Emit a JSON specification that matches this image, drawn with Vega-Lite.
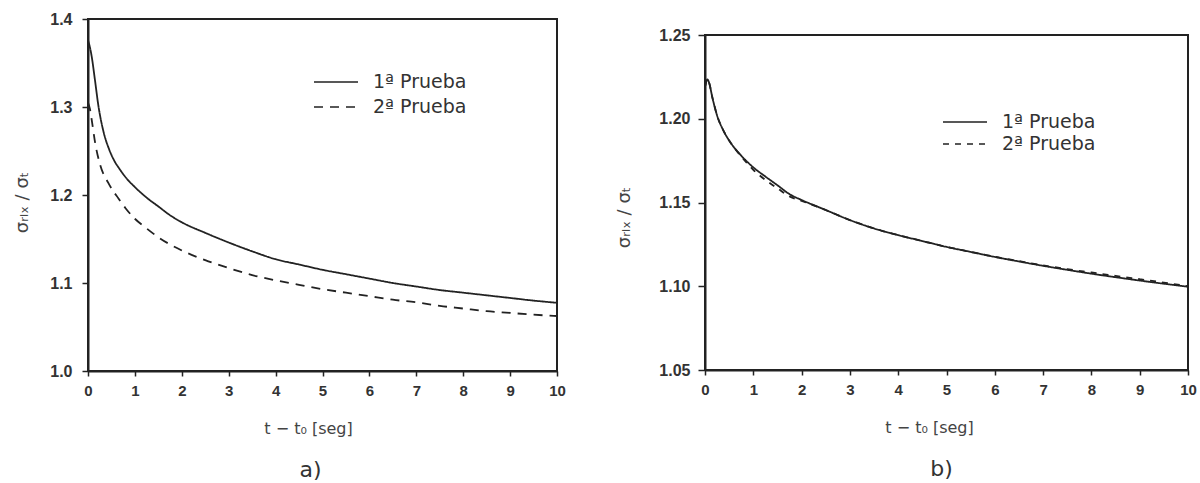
{
  "$schema": "https://vega.github.io/schema/vega-lite/v6.json",
  "background": "white",
  "padding": {"left": 12, "top": 10, "right": 0, "bottom": 0},
  "spacing": 47,
  "resolve": {"scale": {"strokeDash": "independent"}, "legend": {"strokeDash": "independent"}},
  "config": {
    "view": {"stroke": "#222", "strokeWidth": 2},
    "axis": {
      "grid": false,
      "domainColor": "#222",
      "domainWidth": 2,
      "tickColor": "#222",
      "tickWidth": 1.5,
      "labelFont": "Liberation Sans",
      "labelFontWeight": "bold",
      "labelColor": "#333",
      "titleFont": "DejaVu Sans",
      "titleFontWeight": "normal",
      "titleColor": "#444",
      "labelFlush": false
    },
    "legend": {
      "symbolType": "M-2,0H2",
      "symbolStrokeWidth": 1.6,
      "symbolStrokeColor": "#222",
      "symbolSize": 484,
      "labelFont": "DejaVu Sans",
      "labelFontSize": 19,
      "labelColor": "#333",
      "labelOffset": 25,
      "padding": 0
    },
    "title": {"font": "DejaVu Sans", "fontWeight": "normal", "fontSize": 22, "color": "#333"}
  },
  "datasets": {
    "a": [
      {"t": 0.0, "v": 1.376, "serie": "1ª Prueba"},
      {"t": 0.04, "v": 1.368, "serie": "1ª Prueba"},
      {"t": 0.08, "v": 1.357, "serie": "1ª Prueba"},
      {"t": 0.15, "v": 1.330, "serie": "1ª Prueba"},
      {"t": 0.22, "v": 1.302, "serie": "1ª Prueba"},
      {"t": 0.33, "v": 1.272, "serie": "1ª Prueba"},
      {"t": 0.45, "v": 1.252, "serie": "1ª Prueba"},
      {"t": 0.54, "v": 1.241, "serie": "1ª Prueba"},
      {"t": 0.68, "v": 1.229, "serie": "1ª Prueba"},
      {"t": 0.82, "v": 1.219, "serie": "1ª Prueba"},
      {"t": 1.0, "v": 1.209, "serie": "1ª Prueba"},
      {"t": 1.25, "v": 1.197, "serie": "1ª Prueba"},
      {"t": 1.5, "v": 1.187, "serie": "1ª Prueba"},
      {"t": 1.75, "v": 1.177, "serie": "1ª Prueba"},
      {"t": 2.0, "v": 1.169, "serie": "1ª Prueba"},
      {"t": 2.5, "v": 1.157, "serie": "1ª Prueba"},
      {"t": 3.0, "v": 1.146, "serie": "1ª Prueba"},
      {"t": 3.5, "v": 1.136, "serie": "1ª Prueba"},
      {"t": 4.0, "v": 1.127, "serie": "1ª Prueba"},
      {"t": 4.5, "v": 1.121, "serie": "1ª Prueba"},
      {"t": 5.0, "v": 1.115, "serie": "1ª Prueba"},
      {"t": 5.5, "v": 1.110, "serie": "1ª Prueba"},
      {"t": 6.0, "v": 1.105, "serie": "1ª Prueba"},
      {"t": 6.5, "v": 1.100, "serie": "1ª Prueba"},
      {"t": 7.0, "v": 1.096, "serie": "1ª Prueba"},
      {"t": 7.5, "v": 1.092, "serie": "1ª Prueba"},
      {"t": 8.0, "v": 1.089, "serie": "1ª Prueba"},
      {"t": 8.5, "v": 1.086, "serie": "1ª Prueba"},
      {"t": 9.0, "v": 1.083, "serie": "1ª Prueba"},
      {"t": 9.5, "v": 1.080, "serie": "1ª Prueba"},
      {"t": 10.0, "v": 1.0775, "serie": "1ª Prueba"},
      {"t": 0.0, "v": 1.305, "serie": "2ª Prueba"},
      {"t": 0.04, "v": 1.298, "serie": "2ª Prueba"},
      {"t": 0.08, "v": 1.285, "serie": "2ª Prueba"},
      {"t": 0.15, "v": 1.26, "serie": "2ª Prueba"},
      {"t": 0.26, "v": 1.234, "serie": "2ª Prueba"},
      {"t": 0.43, "v": 1.214, "serie": "2ª Prueba"},
      {"t": 0.65, "v": 1.196, "serie": "2ª Prueba"},
      {"t": 0.8, "v": 1.185, "serie": "2ª Prueba"},
      {"t": 1.0, "v": 1.173, "serie": "2ª Prueba"},
      {"t": 1.25, "v": 1.162, "serie": "2ª Prueba"},
      {"t": 1.5, "v": 1.152, "serie": "2ª Prueba"},
      {"t": 2.0, "v": 1.137, "serie": "2ª Prueba"},
      {"t": 2.5, "v": 1.126, "serie": "2ª Prueba"},
      {"t": 3.0, "v": 1.117, "serie": "2ª Prueba"},
      {"t": 3.5, "v": 1.109, "serie": "2ª Prueba"},
      {"t": 4.0, "v": 1.103, "serie": "2ª Prueba"},
      {"t": 4.5, "v": 1.098, "serie": "2ª Prueba"},
      {"t": 5.0, "v": 1.093, "serie": "2ª Prueba"},
      {"t": 5.5, "v": 1.089, "serie": "2ª Prueba"},
      {"t": 6.0, "v": 1.085, "serie": "2ª Prueba"},
      {"t": 6.5, "v": 1.081, "serie": "2ª Prueba"},
      {"t": 7.0, "v": 1.078, "serie": "2ª Prueba"},
      {"t": 7.5, "v": 1.074, "serie": "2ª Prueba"},
      {"t": 8.0, "v": 1.071, "serie": "2ª Prueba"},
      {"t": 8.5, "v": 1.068, "serie": "2ª Prueba"},
      {"t": 9.0, "v": 1.066, "serie": "2ª Prueba"},
      {"t": 9.5, "v": 1.064, "serie": "2ª Prueba"},
      {"t": 10.0, "v": 1.0625, "serie": "2ª Prueba"}
    ],
    "b": [
      {"t": 0.0, "v": 1.219, "serie": "1ª Prueba"},
      {"t": 0.05, "v": 1.2235, "serie": "1ª Prueba"},
      {"t": 0.09, "v": 1.221, "serie": "1ª Prueba"},
      {"t": 0.15, "v": 1.213, "serie": "1ª Prueba"},
      {"t": 0.25, "v": 1.202, "serie": "1ª Prueba"},
      {"t": 0.38, "v": 1.193, "serie": "1ª Prueba"},
      {"t": 0.5, "v": 1.187, "serie": "1ª Prueba"},
      {"t": 0.75, "v": 1.178, "serie": "1ª Prueba"},
      {"t": 1.0, "v": 1.171, "serie": "1ª Prueba"},
      {"t": 1.25, "v": 1.1655, "serie": "1ª Prueba"},
      {"t": 1.5, "v": 1.1603, "serie": "1ª Prueba"},
      {"t": 1.76, "v": 1.1548, "serie": "1ª Prueba"},
      {"t": 2.0, "v": 1.1515, "serie": "1ª Prueba"},
      {"t": 2.5, "v": 1.1455, "serie": "1ª Prueba"},
      {"t": 3.0, "v": 1.1395, "serie": "1ª Prueba"},
      {"t": 3.5, "v": 1.1345, "serie": "1ª Prueba"},
      {"t": 4.0, "v": 1.1305, "serie": "1ª Prueba"},
      {"t": 4.5, "v": 1.127, "serie": "1ª Prueba"},
      {"t": 5.0, "v": 1.1235, "serie": "1ª Prueba"},
      {"t": 5.5, "v": 1.1205, "serie": "1ª Prueba"},
      {"t": 6.0, "v": 1.1175, "serie": "1ª Prueba"},
      {"t": 6.5, "v": 1.1148, "serie": "1ª Prueba"},
      {"t": 7.0, "v": 1.1122, "serie": "1ª Prueba"},
      {"t": 7.5, "v": 1.1098, "serie": "1ª Prueba"},
      {"t": 8.0, "v": 1.1075, "serie": "1ª Prueba"},
      {"t": 8.5, "v": 1.1054, "serie": "1ª Prueba"},
      {"t": 9.0, "v": 1.1034, "serie": "1ª Prueba"},
      {"t": 9.5, "v": 1.1015, "serie": "1ª Prueba"},
      {"t": 10.0, "v": 1.0997, "serie": "1ª Prueba"},
      {"t": 0.0, "v": 1.219, "serie": "2ª Prueba"},
      {"t": 0.05, "v": 1.2235, "serie": "2ª Prueba"},
      {"t": 0.09, "v": 1.221, "serie": "2ª Prueba"},
      {"t": 0.15, "v": 1.213, "serie": "2ª Prueba"},
      {"t": 0.25, "v": 1.202, "serie": "2ª Prueba"},
      {"t": 0.38, "v": 1.193, "serie": "2ª Prueba"},
      {"t": 0.5, "v": 1.187, "serie": "2ª Prueba"},
      {"t": 0.75, "v": 1.1775, "serie": "2ª Prueba"},
      {"t": 1.0, "v": 1.1695, "serie": "2ª Prueba"},
      {"t": 1.25, "v": 1.1635, "serie": "2ª Prueba"},
      {"t": 1.5, "v": 1.1585, "serie": "2ª Prueba"},
      {"t": 1.76, "v": 1.1535, "serie": "2ª Prueba"},
      {"t": 2.0, "v": 1.151, "serie": "2ª Prueba"},
      {"t": 2.5, "v": 1.1455, "serie": "2ª Prueba"},
      {"t": 3.0, "v": 1.1395, "serie": "2ª Prueba"},
      {"t": 3.5, "v": 1.1345, "serie": "2ª Prueba"},
      {"t": 4.0, "v": 1.1305, "serie": "2ª Prueba"},
      {"t": 4.5, "v": 1.127, "serie": "2ª Prueba"},
      {"t": 5.0, "v": 1.1235, "serie": "2ª Prueba"},
      {"t": 5.5, "v": 1.1205, "serie": "2ª Prueba"},
      {"t": 6.0, "v": 1.1176, "serie": "2ª Prueba"},
      {"t": 6.5, "v": 1.115, "serie": "2ª Prueba"},
      {"t": 7.0, "v": 1.1125, "serie": "2ª Prueba"},
      {"t": 7.5, "v": 1.1102, "serie": "2ª Prueba"},
      {"t": 8.0, "v": 1.1082, "serie": "2ª Prueba"},
      {"t": 8.5, "v": 1.1062, "serie": "2ª Prueba"},
      {"t": 9.0, "v": 1.1042, "serie": "2ª Prueba"},
      {"t": 9.5, "v": 1.1022, "serie": "2ª Prueba"},
      {"t": 10.0, "v": 1.1, "serie": "2ª Prueba"}
    ]
  },
  "hconcat": [
    {
      "width": 469,
      "height": 352,
      "data": {"name": "a"},
      "title": {"text": "a)", "orient": "bottom", "anchor": "middle", "frame": "group", "dx": -12, "offset": 24},
      "mark": {"type": "line", "stroke": "#222", "strokeWidth": 1.8, "interpolate": "monotone"},
      "encoding": {
        "x": {
          "field": "t", "type": "quantitative",
          "scale": {"domain": [0, 10], "nice": false},
          "axis": {"values": [0, 1, 2, 3, 4, 5, 6, 7, 8, 9, 10], "title": "t − t₀ [seg]", "titleFontSize": 16, "titlePadding": 22, "titleX": 220, "tickSize": 5, "labelPadding": 7, "labelFontSize": 15}
        },
        "y": {
          "field": "v", "type": "quantitative",
          "scale": {"domain": [1.0, 1.4], "nice": false, "zero": false},
          "axis": {"values": [1.0, 1.1, 1.2, 1.3, 1.4], "format": ".1f", "title": "σᵣₗₓ / σₜ", "titleFontSize": 18, "titlePadding": 18, "titleY": 183, "tickSize": 6, "labelPadding": 10, "labelFontSize": 16}
        },
        "strokeDash": {
          "field": "serie", "type": "nominal",
          "scale": {"domain": ["1ª Prueba", "2ª Prueba"], "range": [[1, 0], [9, 7]]},
          "legend": {"title": null, "orient": "none", "legendX": 236, "legendY": 51, "rowPadding": 3}
        }
      }
    },
    {
      "spacing": 6,
      "vconcat": [
        {
          "width": 483,
          "height": 1,
          "data": {"values": []},
          "mark": "point",
          "view": {"stroke": null}
        },
        {
          "width": 483,
          "height": 335,
          "data": {"name": "b"},
          "title": {"text": "b)", "orient": "bottom", "anchor": "middle", "frame": "group", "dx": -5, "offset": 24},
          "mark": {"type": "line", "stroke": "#222", "strokeWidth": 1.8, "interpolate": "monotone"},
          "encoding": {
            "x": {
              "field": "t", "type": "quantitative",
              "scale": {"domain": [0, 10], "nice": false},
              "axis": {"values": [0, 1, 2, 3, 4, 5, 6, 7, 8, 9, 10], "title": "t − t₀ [seg]", "titleFontSize": 16, "titlePadding": 22, "titleX": 224, "tickSize": 5, "labelPadding": 7, "labelFontSize": 15}
            },
            "y": {
              "field": "v", "type": "quantitative",
              "scale": {"domain": [1.05, 1.25], "nice": false, "zero": false},
              "axis": {"values": [1.05, 1.1, 1.15, 1.2, 1.25], "format": ".2f", "title": "σᵣₗₓ / σₜ", "titleFontSize": 18, "titlePadding": 25, "titleY": 182, "tickSize": 7, "labelPadding": 8, "labelFontSize": 16}
            },
            "strokeDash": {
              "field": "serie", "type": "nominal",
              "scale": {"domain": ["1ª Prueba", "2ª Prueba"], "range": [[1, 0], [6, 6]]},
              "legend": {"title": null, "orient": "none", "legendX": 248, "legendY": 91, "rowPadding": 0}
            }
          }
        }
      ]
    }
  ]
}
